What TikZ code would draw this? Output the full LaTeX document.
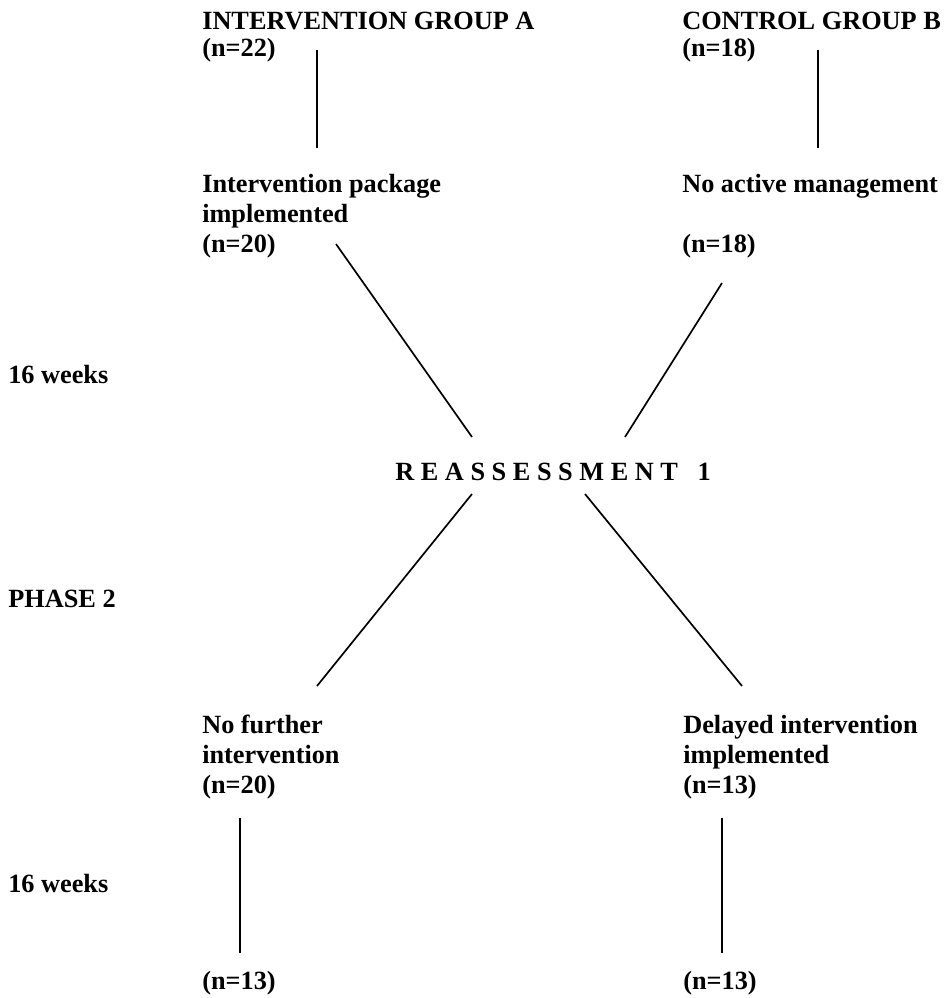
\documentclass[tikz,border=0pt]{standalone}
\usepackage{fontspec}
\setmainfont{Liberation Serif}
\tikzset{
  lbl/.style={anchor=base west, inner sep=0pt, align=left,
    font=\bfseries\fontsize{18.7}{21.3}\selectfont},
  link/.style={line width=1.2pt}
}
\begin{document}
\begin{tikzpicture}[x=0.025cm,y=-0.025cm]
\useasboundingbox (0,0) rectangle (952,998);
% group headings (base = last line)
\node[lbl] (grpA) at (202,57) {INTERVENTION GROUP A\\[-1.5pt](n=22)};
\node[lbl] (grpB) at (682,57) {CONTROL GROUP B\\[-1.5pt](n=18)};
% phase 1
\node[lbl] (pkgA) at (202,252) {Intervention package\\implemented\\(n=20)};
\node[lbl] (noman) at (682,252) {No active management\\[21.3pt](n=18)};
\node[lbl] (wkA) at (8,383) {16 weeks};
\node[lbl] (reas) at (395,480) {R E A S S E S S M E N T \ \ 1};
\node[lbl] (phase) at (8,607) {PHASE 2};
% phase 2
\node[lbl] (nofur) at (202,793) {No further\\intervention\\(n=20)};
\node[lbl] (delay) at (683,793) {Delayed intervention\\implemented\\(n=13)};
\node[lbl] (wkB) at (8,892) {16 weeks};
\node[lbl] (endA) at (202,989) {(n=13)};
\node[lbl] (endB) at (683,989) {(n=13)};

% line ends
\coordinate (a1) at (317,50);  \coordinate (a2) at (317,148);
\coordinate (b1) at (818,50);  \coordinate (b2) at (818,148);
\coordinate (c1) at (336,244); \coordinate (c2) at (472,437);
\coordinate (d1) at (722,283); \coordinate (d2) at (625,437);
\coordinate (e1) at (472,494); \coordinate (e2) at (317,686);
\coordinate (f1) at (585,494); \coordinate (f2) at (742,686);
\coordinate (g1) at (240,818); \coordinate (g2) at (240,953);
\coordinate (h1) at (722,818); \coordinate (h2) at (722,953);

\foreach \p in {a,b,c,d,e,f,g,h}{
  \draw[link] (\p1) -- (\p2);
}
\end{tikzpicture}
\end{document}
